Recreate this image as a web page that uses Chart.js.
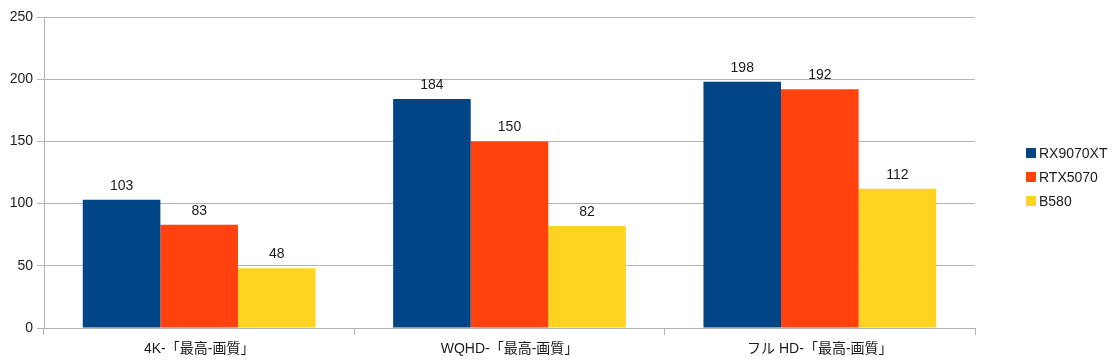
<!DOCTYPE html>
<html>
<head>
<meta charset="utf-8">
<script src="https://cdn.jsdelivr.net/npm/chart.js@4.4.1/dist/chart.umd.min.js"></script>
<style>
  html, body { margin: 0; padding: 0; background: #fff; }
  canvas { display: block; }
</style>
</head>
<body>
<canvas id="chart" width="1114" height="364"></canvas>
<script>
const categories = ['4K-「最高-画質」', 'WQHD-「最高-画質」', 'フル HD-「最高-画質」'];
const seriesNames = ['RX9070XT', 'RTX5070', 'B580'];
const rx9070xt = [103, 184, 198];
const rtx5070 = [83, 150, 192];
const b580 = [48, 82, 112];
const yTicks = [0, 50, 100, 150, 200, 250];

const colors = ['#004586', '#ff420e', '#ffd320'];
const fontFamily = '"Liberation Sans", "Noto Sans CJK JP", sans-serif';

// value labels above each bar
const valueLabels = {
    id: 'valueLabels',
    afterDatasetsDraw(chart) {
        const ctx = chart.ctx;
        ctx.save();
        ctx.font = '14px ' + fontFamily;
        ctx.fillStyle = '#1a1a1a';
        ctx.textAlign = 'center';
        ctx.textBaseline = 'bottom';
        chart.data.datasets.forEach((ds, i) => {
            chart.getDatasetMeta(i).data.forEach((bar, j) => {
                ctx.fillText(String(ds.data[j]), bar.x, bar.y - 7);
            });
        });
        ctx.restore();
    }
};

// legend on the right, drawn by hand for exact placement
const sideLegend = {
    id: 'sideLegend',
    afterDraw(chart) {
        const ctx = chart.ctx;
        ctx.save();
        ctx.font = '14px ' + fontFamily;
        ctx.textBaseline = 'middle';
        chart.data.datasets.forEach((ds, i) => {
            const y = 153 + i * 24;
            ctx.fillStyle = ds.backgroundColor;
            ctx.fillRect(1026, y - 5, 10, 10);
            ctx.fillStyle = '#1a1a1a';
            ctx.fillText(ds.label, 1039, y + 1);
        });
        ctx.restore();
    }
};

new Chart(document.getElementById('chart'), {
    type: 'bar',
    data: {
        labels: categories,
        datasets: [rx9070xt, rtx5070, b580].map((data, i) => ({
            label: seriesNames[i],
            data,
            backgroundColor: colors[i],
            borderWidth: 0,
            categoryPercentage: 0.75,
            barPercentage: 1.0,
        })),
    },
    options: {
        responsive: false,
        animation: false,
        layout: { padding: { top: 17, right: 139, left: 0, bottom: 0 } },
        plugins: {
            legend: { display: false },
            tooltip: { enabled: false },
        },
        scales: {
            x: {
                afterFit: (scale) => { scale.height = 36; },
                grid: {
                    offset: true,
                    drawOnChartArea: false,
                    color: '#b3b3b3',
                    tickLength: 7,
                },
                border: { color: '#b3b3b3' },
                ticks: {
                    color: '#1a1a1a',
                    font: { family: fontFamily, size: 14 },
                    padding: 6,
                },
            },
            y: {
                min: 0,
                max: 250,
                afterFit: (scale) => { scale.width = 44; },
                afterBuildTicks: (scale) => {
                    scale.ticks = yTicks.map(v => ({ value: v }));
                },
                grid: {
                    color: '#b3b3b3',
                    tickLength: 7,
                },
                border: { color: '#b3b3b3' },
                ticks: {
                    color: '#1a1a1a',
                    font: { family: fontFamily, size: 14 },
                    padding: 4,
                },
            },
        },
    },
    plugins: [valueLabels, sideLegend],
});
</script>
</body>
</html>
